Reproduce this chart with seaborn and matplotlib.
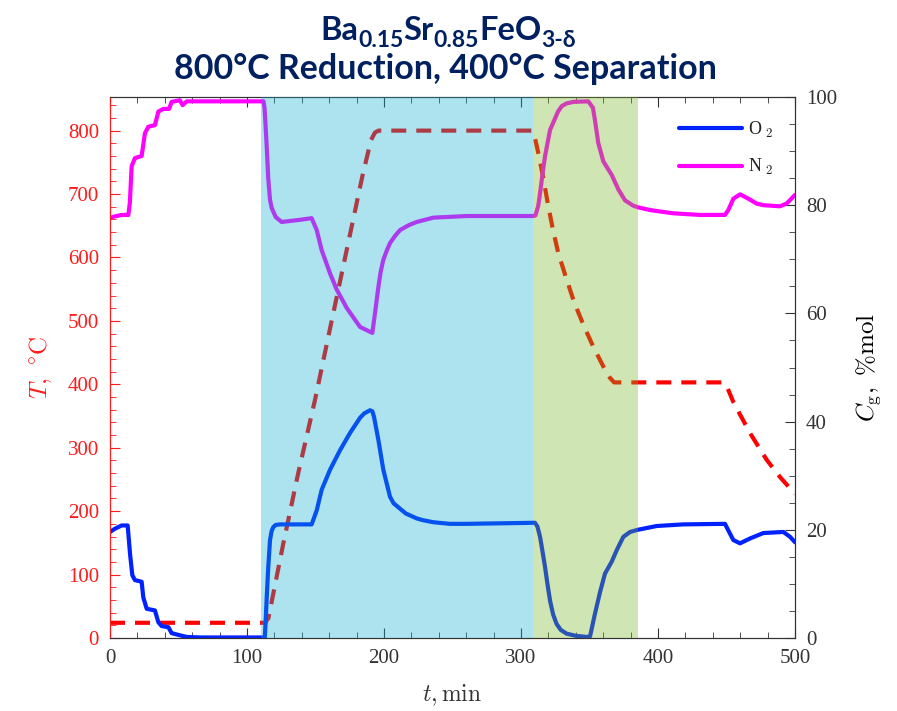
import numpy as np
import pandas as pd
import matplotlib
matplotlib.use('Agg')
import matplotlib.pyplot as plt
from matplotlib.ticker import MultipleLocator
from matplotlib.transforms import IdentityTransform
import seaborn as sns

# ---- data ----
t_o2 = [0, 3.6, 8.5, 12.9, 14.6, 16.3, 18.2, 23.1, 24.3, 26.8, 32.8, 35.3, 37.7,
        42.6, 45, 51, 56, 65.7, 113, 113.6, 114.4, 115.5, 116.8, 118, 119.2, 121,
        124.1, 147.2, 150.9, 154.5, 160.6, 167.9, 175.2, 182.5, 185.5, 189.8,
        191.5, 192.7, 195.9, 199.5, 204.4, 207, 211.7, 216, 223.9, 228, 236,
        248, 260.4, 310.2, 312, 313.9, 315.7, 317.5, 319.3, 321.2, 323.5, 326,
        329, 333.3, 340, 347.9, 350.4, 354, 357.7, 361.3, 366.2, 369.8, 374.7,
        379.6, 385.2, 399, 418.5, 448.9, 451.3, 455, 459.9, 467.2, 476.9,
        491.5, 496.4, 500]
c_o2 = [19.6, 20.2, 20.8, 20.8, 15.6, 11.6, 10.7, 10.4, 7.5, 5.4, 5.1, 2.9, 2.2,
        2.0, 0.9, 0.5, 0.2, 0.1, 0.1, 3.0, 7.5, 13.0, 18.1, 19.8, 20.5, 20.9,
        21.0, 21.0, 23.6, 27.4, 31.1, 34.7, 37.9, 40.7, 41.5, 42.1,
        41.9, 40.9, 36.6, 31.1, 26.1, 24.9, 23.9, 23.0, 22.1, 21.8, 21.4,
        21.1, 21.1, 21.3, 20.6, 18.7, 16.0, 13.2, 10.0, 6.9, 4.3, 2.6,
        1.5, 0.8, 0.4, 0.2, 0.3, 4.5, 8.5, 11.9, 14.1, 16.2, 18.7,
        19.6, 20.0, 20.7, 21.0, 21.1, 19.9, 18.1, 17.5, 18.4, 19.4,
        19.6, 18.7, 17.7]

t_n2 = [0, 3, 8.5, 13.4, 14.5, 15.8, 18.2, 23.1, 25.5, 28, 32.8, 35.3, 38.9,
        43.1, 45, 51, 53, 56, 61, 112, 112.8, 113.5, 114.4, 115.5, 116.8, 118,
        119.2, 121, 125.3, 138.7, 147.2, 150.9, 154.5, 160.6, 165.5, 172.8,
        182.5, 189.8, 191.5, 193.4, 195.9, 197.5, 199.5, 202, 204.4, 208, 211.7,
        218, 223.9, 236, 260.4, 309, 310.5, 312.6, 313.9, 315.1, 317.5, 321.2,
        324.8, 327, 329.7, 333, 338.2, 349.1, 352.5, 354, 356.4, 360.1, 366.2,
        371.1, 375.9, 382, 385.6, 394.2, 411.2, 430.7, 448.9, 451.3, 455, 459.9,
        466, 472, 476.9, 489, 493.9, 500]
c_n2 = [77.6, 77.9, 78.2, 78.2, 80.5, 87.2, 88.7, 89.1, 93.3, 94.5, 94.8, 97.3,
        97.8, 97.8, 99.1, 99.4, 98.5, 99.2, 99.2, 99.2, 98.0, 95.0, 90.8, 85.0,
        81.0, 79.5, 78.8, 77.8, 76.9, 77.3, 77.6, 75.4, 71.7, 67.4, 64.4,
        61.0, 57.5, 56.6, 56.4, 60.0, 64.9, 67.6, 69.9, 71.6, 73.0, 74.3,
        75.4, 76.3, 76.9, 77.7, 78.0, 78.0, 78.1, 79.9, 82.2, 84.6, 89.0,
        93.9, 96.0, 97.3, 98.3, 98.8, 99.1, 99.2, 98.0, 95.7, 91.5, 88.1,
        85.6, 82.9, 80.9, 79.9, 79.6, 79.1, 78.5, 78.2, 78.2, 79.1, 81.2,
        82.0, 81.2, 80.3, 80.0, 79.8, 80.3, 81.9]

t_temp = [0, 113, 115.6, 126.5, 137.4, 149.6, 161.3, 172.8, 184.2, 190.5, 193.4,
          196, 308, 309.5, 312.6, 316.3, 319.5, 323.1, 327.2, 332.6, 338.7, 345.5,
          352.8, 361.3, 365, 368, 447, 450, 455, 467.2, 479.3, 489, 497.6, 500]
temp = [24, 24, 31, 149, 260, 375, 495, 612, 728, 785, 797, 800, 800, 795, 765,
        725, 686, 646, 607, 570, 530, 494, 459, 423, 410, 403, 403, 398, 372,
        323, 281, 254, 233, 227]

reduction = (110.2, 308.6)
separation = (308.6, 385.2)

gas_labels = ['O$_{\\ 2}$', 'N$_{\\ 2}$']

# title pieces: (text, size, baseline drop in px)
title_line1 = [('Ba', 23.5, 0), ('0.15', 16.5, 7), ('Sr', 23.5, 0), ('0.85', 16.5, 7),
               ('FeO', 23.5, 0), ('3-δ', 16.5, 7)]
title_line2 = '800°C Reduction, 400°C Separation'

# ---- style ----
sns.set_style('ticks')
plt.rcParams['font.family'] = 'serif'
plt.rcParams['font.serif'] = ['Liberation Serif', 'DejaVu Serif']
plt.rcParams['mathtext.fontset'] = 'cm'

RED = '#ff1a1a'
DARK = '#333333'
NAVY = '#002060'

fig = plt.figure(figsize=(8.97, 7.11), dpi=100)
ax = fig.add_axes([110 / 897, 73 / 711, 685 / 897, 541 / 711])
ax2 = ax.twinx()

df_t = pd.DataFrame({'t': t_temp, 'T': temp})
df_o2 = pd.DataFrame({'t': t_o2, 'C': c_o2})
df_n2 = pd.DataFrame({'t': t_n2, 'C': c_n2})

sns.lineplot(data=df_t, x='t', y='T', ax=ax, color='red', lw=3,
             linestyle=(0, (3.6, 2.4)), estimator=None, sort=False)
sns.lineplot(data=df_o2, x='t', y='C', ax=ax2, color='#0022ff', lw=3,
             estimator=None, sort=False, label=gas_labels[0])
sns.lineplot(data=df_n2, x='t', y='C', ax=ax2, color='#ff00ff', lw=3,
             estimator=None, sort=False, label=gas_labels[1])

# translucent phase bands drawn over the curves
ax2.axvspan(*reduction, color=(17/255, 174/255, 206/255), alpha=0.345, lw=0, zorder=5)
ax2.axvspan(*separation, color=(119/255, 180/255, 40/255), alpha=0.345, lw=0, zorder=5)

ax.set_xlim(0, 500)
ax.set_ylim(0, 853)
ax2.set_ylim(0, 100)

ax.xaxis.set_major_locator(MultipleLocator(100))
ax.xaxis.set_minor_locator(MultipleLocator(20))
ax.yaxis.set_major_locator(MultipleLocator(100))
ax.yaxis.set_minor_locator(MultipleLocator(20))
ax2.yaxis.set_major_locator(MultipleLocator(20))
ax2.yaxis.set_minor_locator(MultipleLocator(5))

ax.tick_params(axis='x', which='both', direction='in', top=True, colors=DARK,
               labelsize=15, pad=8)
ax.tick_params(axis='x', which='major', length=7)
ax.tick_params(axis='x', which='minor', length=4)
ax.tick_params(axis='y', which='both', direction='in', colors=RED,
               labelsize=15, pad=8)
ax.tick_params(axis='y', which='major', length=7)
ax.tick_params(axis='y', which='minor', length=4)
ax2.tick_params(axis='y', which='both', direction='in', colors=DARK,
                labelsize=15, pad=8)
ax2.tick_params(axis='y', which='major', length=7)
ax2.tick_params(axis='y', which='minor', length=4)

for side in ['top', 'bottom', 'right']:
    ax.spines[side].set_color(DARK)
    ax2.spines[side].set_color(DARK)
ax.spines['left'].set_color(RED)
ax2.spines['left'].set_color(RED)

ax.set_xlabel(r'$t, \mathrm{min}$', fontsize=17, color=DARK, labelpad=10)
ax.set_ylabel(r'$T,\ ^{\circ}\mathrm{C}$', fontsize=18, color=RED, labelpad=10)
ax2.set_ylabel(r'$C_{\mathrm{g}},\ \%\mathrm{mol}$', fontsize=18,
               color='black', labelpad=12)

leg = ax2.legend(loc='upper left', bbox_to_anchor=(0.8307, 0.958), frameon=False,
                 handlelength=3.5, handletextpad=0.3, labelspacing=0.95,
                 borderpad=0, borderaxespad=0,
                 prop={'family': 'Liberation Serif', 'size': 13})
for txt in leg.get_texts():
    txt.set_color('#222222')

# title, composed piece by piece so the subscripts keep their size
renderer = fig.canvas.get_renderer()
H = 711
pieces = []
x = 0
for s, size, drop in title_line1:
    tx = fig.text(x, H - 40 - drop, s, fontsize=size, color=NAVY, family='Lato',
                  weight='bold', va='baseline', ha='left', transform=IdentityTransform())
    w = tx.get_window_extent(renderer).width
    pieces.append((tx, x))
    x += w
shift = 448 - x / 2
for tx, x0 in pieces:
    tx.set_x(x0 + shift)

fig.text(445, H - 79, title_line2, fontsize=24.5, color=NAVY, family='Lato',
         weight='bold', va='baseline', ha='center', transform=IdentityTransform())

fig.savefig('out.png', dpi=100)
